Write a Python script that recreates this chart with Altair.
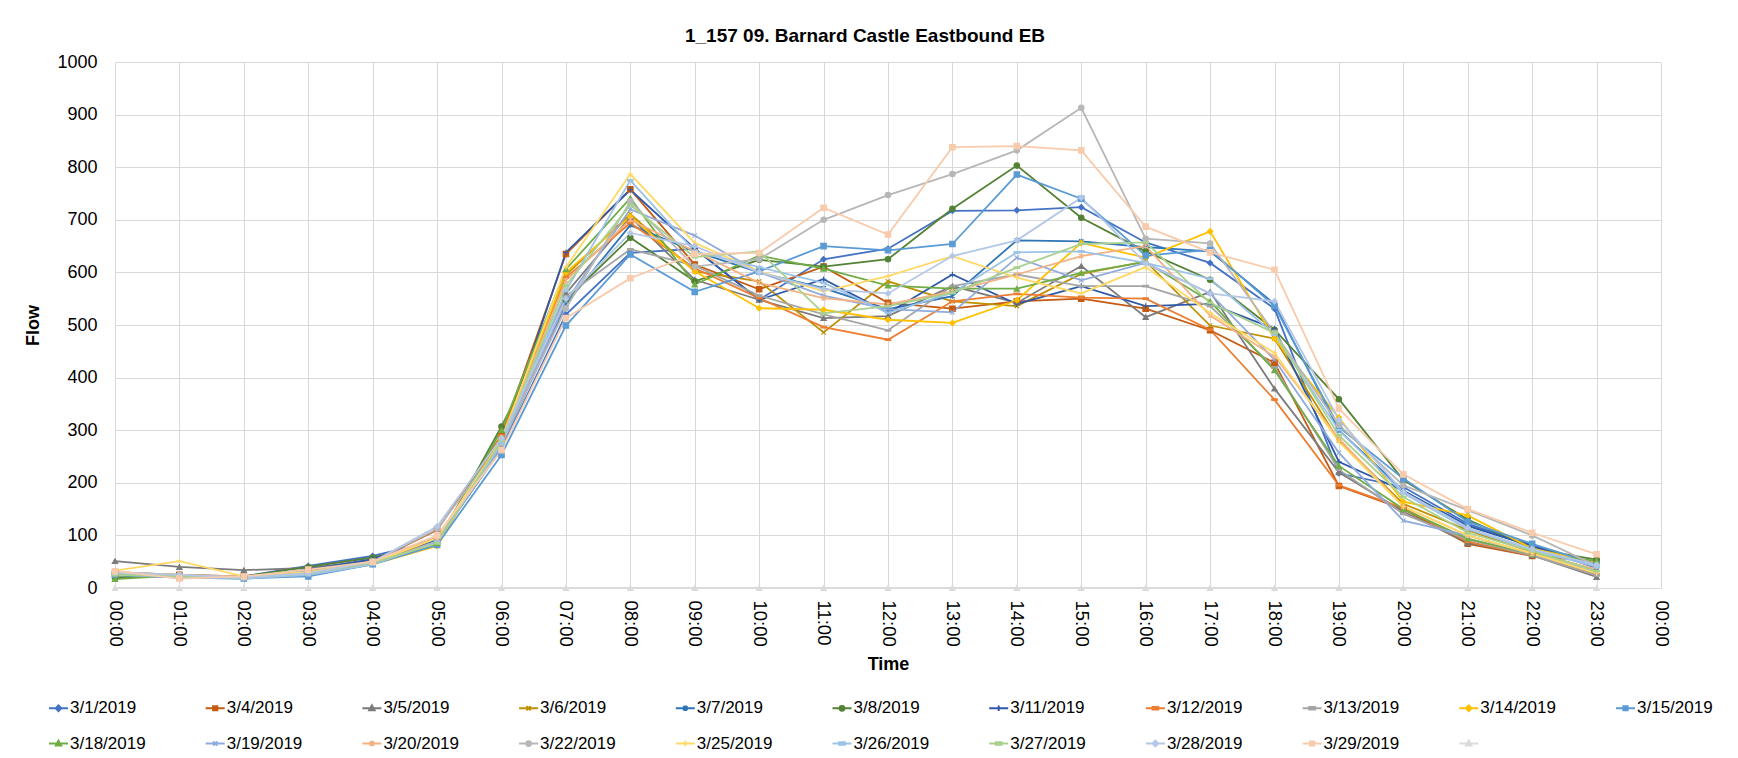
import altair as alt
import pandas as pd

FONT = "Liberation Sans, Arial, sans-serif"

hours = list(range(24))
tick_hours = list(range(25))

series_names = ["3/1/2019", "3/4/2019", "3/5/2019", "3/6/2019", "3/7/2019", "3/8/2019",
                "3/11/2019", "3/12/2019", "3/13/2019", "3/14/2019", "3/15/2019",
                "3/18/2019", "3/19/2019", "3/20/2019", "3/22/2019", "3/25/2019",
                "3/26/2019", "3/27/2019", "3/28/2019", "3/29/2019", " "]

d_0301 = [25, 22, 22, 42, 61, 90, 265, 520, 637, 645, 548, 625, 645, 717, 718, 724, 657, 618, 531, 218, 192, 122, 82, 43]
d_0304 = [28, 25, 22, 32, 50, 110, 290, 635, 758, 615, 568, 611, 542, 531, 545, 550, 531, 490, 428, 194, 150, 84, 61, 50]
d_0305 = [51, 40, 34, 38, 52, 95, 280, 560, 705, 586, 548, 513, 517, 574, 542, 612, 515, 563, 379, 220, 145, 86, 62, 21]
d_0306 = [30, 25, 20, 30, 48, 85, 285, 595, 711, 602, 583, 486, 583, 545, 536, 597, 621, 499, 474, 280, 160, 110, 68, 34]
d_0307 = [27, 22, 20, 30, 50, 92, 270, 540, 690, 640, 600, 570, 530, 555, 661, 659, 648, 640, 540, 300, 185, 118, 80, 38]
d_0308 = [20, 24, 22, 40, 58, 85, 307, 548, 666, 583, 624, 611, 625, 721, 803, 704, 640, 586, 491, 359, 205, 130, 75, 54]
d_0311 = [25, 23, 20, 35, 55, 95, 275, 638, 757, 645, 548, 587, 523, 596, 540, 574, 536, 540, 493, 240, 185, 118, 80, 38]
d_0312 = [28, 24, 20, 30, 50, 88, 290, 590, 694, 608, 551, 496, 472, 545, 559, 552, 550, 491, 358, 195, 152, 88, 62, 26]
d_0313 = [30, 25, 22, 32, 48, 85, 275, 555, 644, 613, 556, 520, 490, 574, 596, 574, 574, 536, 419, 225, 141, 92, 62, 24]
d_0314 = [28, 22, 20, 25, 45, 80, 285, 600, 706, 602, 532, 529, 510, 504, 547, 656, 628, 678, 474, 324, 164, 138, 75, 48]
d_0315 = [25, 20, 18, 22, 45, 82, 253, 499, 634, 563, 602, 650, 642, 654, 786, 740, 632, 643, 536, 306, 208, 126, 84, 45]
d_0318 = [17, 24, 22, 28, 48, 85, 300, 606, 741, 577, 632, 607, 575, 569, 569, 599, 620, 545, 414, 232, 150, 94, 64, 52]
d_0319 = [25, 20, 18, 25, 45, 88, 270, 545, 720, 670, 600, 556, 530, 524, 628, 585, 618, 560, 434, 257, 128, 100, 64, 30]
d_0320 = [30, 25, 22, 30, 50, 95, 280, 585, 700, 640, 580, 551, 539, 564, 596, 631, 650, 518, 440, 284, 155, 100, 65, 36]
d_0322 = [28, 24, 20, 30, 50, 112, 275, 532, 735, 611, 625, 700, 747, 787, 832, 913, 664, 655, 485, 310, 195, 148, 100, 42]
d_0325 = [33, 51, 22, 30, 48, 95, 280, 610, 787, 656, 602, 564, 593, 631, 590, 560, 610, 523, 447, 278, 155, 100, 66, 28]
d_0326 = [28, 22, 18, 25, 45, 88, 275, 565, 775, 640, 610, 580, 523, 561, 638, 640, 618, 588, 482, 300, 180, 112, 72, 40]
d_0327 = [25, 22, 20, 28, 48, 85, 280, 575, 728, 629, 640, 522, 536, 561, 609, 654, 657, 542, 485, 290, 173, 105, 70, 32]
d_0328 = [30, 25, 20, 28, 50, 117, 285, 550, 675, 650, 600, 568, 560, 631, 661, 742, 617, 560, 545, 320, 183, 115, 74, 44]
d_0329 = [32, 18, 22, 35, 50, 100, 262, 513, 589, 635, 637, 723, 672, 838, 840, 832, 687, 638, 605, 341, 216, 150, 105, 64]
d_blank = [0] * 24

all_series = [d_0301, d_0304, d_0305, d_0306, d_0307, d_0308, d_0311, d_0312, d_0313,
              d_0314, d_0315, d_0318, d_0319, d_0320, d_0322, d_0325, d_0326, d_0327,
              d_0328, d_0329, d_blank]

colors = ["#4472C4", "#C55A11", "#7B7B7B", "#BF9000", "#2E75B6", "#548235",
          "#2F59A8", "#ED7D31", "#A5A5A5", "#FFC000", "#5B9BD5",
          "#70AD47", "#8FAADC", "#F4B183", "#B7B7B7", "#FFD966",
          "#9DC3E6", "#A9D18E", "#B4C7E7", "#F8CBAD", "#DBDBDB"]

# marker shapes on the plot
X_SHAPE = "M-0.8,-0.8L0.8,0.8M-0.8,0.8L0.8,-0.8"
STAR = "M-0.8,-0.8L0.8,0.8M-0.8,0.8L0.8,-0.8M0,-1L0,1"
PLUS = "M-1,0L1,0M0,-1L0,1"
DASH = "M-1,-0.3L1,-0.3L1,0.3L-1,0.3Z"
shapes = ["diamond", "square", "triangle-up", X_SHAPE, STAR, "circle", PLUS, DASH, DASH,
          "diamond", "square", "triangle-up", X_SHAPE, STAR, "circle", PLUS, DASH, DASH,
          "diamond", "square", "triangle-up"]

# legend swatches: short line with a small marker in the middle
LN = "M-1,0L1,0"
LG_DIAMOND = LN + "M0,-0.3L0.3,0L0,0.3L-0.3,0Z"
LG_SQUARE = LN + "M-0.22,-0.22L0.22,-0.22L0.22,0.22L-0.22,0.22Z"
LG_TRI = LN + "M0,-0.3L0.28,0.2L-0.28,0.2Z"
LG_X = LN + "M-0.22,-0.22L0.22,0.22M-0.22,0.22L0.22,-0.22"
LG_STAR = LN + "M-0.22,-0.22L0.22,0.22M-0.22,0.22L0.22,-0.22M0,-0.3L0,0.3"
LG_CIRCLE = LN + "M0.25,0A0.25,0.25,0,1,1,-0.25,0A0.25,0.25,0,1,1,0.25,0Z"
LG_PLUS = LN + "M0,-0.3L0,0.3"
LG_DASH = "M-1,0L1,0M-0.3,-0.12L0.3,-0.12L0.3,0.12L-0.3,0.12Z"
legend_shapes = [LG_DIAMOND, LG_SQUARE, LG_TRI, LG_X, LG_STAR, LG_CIRCLE, LG_PLUS, LG_DASH, LG_DASH,
                 LG_DIAMOND, LG_SQUARE, LG_TRI, LG_X, LG_STAR, LG_CIRCLE, LG_PLUS, LG_DASH, LG_DASH,
                 LG_DIAMOND, LG_SQUARE, LG_TRI]

rows = []
for name, vals in zip(series_names, all_series):
    for h, v in zip(hours, vals):
        rows.append({"series": name, "hour": h, "flow": v})
df = pd.DataFrame(rows)

x_enc = alt.X(
    "hour:Q",
    scale=alt.Scale(domain=[0, 24], nice=False, zero=False),
    axis=alt.Axis(
        values=tick_hours,
        labelExpr="(datum.value % 24 < 10 ? '0' : '') + (datum.value % 24) + ':00'",
        labelAngle=90,
        labelFontSize=18.5,
        labelPadding=12,
        ticks=False,
        grid=True,
        gridColor="#D9D9D9",
        domainColor="#D9D9D9",
        title="Time",
        titleFontSize=18,
        titleFontWeight="bold",
        titleY=76,
        titleBaseline="middle",
        labelOverlap=False,
    ),
)
y_enc = alt.Y(
    "flow:Q",
    scale=alt.Scale(domain=[0, 1000], nice=False),
    axis=alt.Axis(
        values=list(range(0, 1001, 100)),
        format="d",
        labelFontSize=18,
        labelPadding=18,
        ticks=False,
        domain=False,
        grid=True,
        gridColor="#D9D9D9",
        title="Flow",
        titleFontSize=18,
        titleFontWeight="bold",
        titleX=-82,
        titleY=263,
        titleAngle=270,
        titleBaseline="middle",
    ),
)

legend = alt.Legend(
    orient="none",
    legendX=-67,
    legendY=635.5,
    direction="horizontal",
    columns=11,
    symbolSize=361,
    symbolStrokeWidth=2,
    labelFontSize=17,
    labelOffset=1,
    columnPadding=55.7,
    rowPadding=16.5,
    gridAlign="all",
    title=None,
    labelLimit=300,
)

lines = alt.Chart(df).mark_line(strokeWidth=1.8).encode(
    x=x_enc,
    y=y_enc,
    color=alt.Color("series:N", scale=alt.Scale(domain=series_names, range=colors), legend=None),
    detail="series:N",
    order=alt.Order("hour:Q"),
)

points = alt.Chart(df).mark_point(filled=True, size=30, strokeWidth=1.1, opacity=1).encode(
    x=alt.X("hour:Q"),
    y=alt.Y("flow:Q"),
    fill=alt.Fill("series:N", scale=alt.Scale(domain=series_names, range=colors), legend=None),
    stroke=alt.Stroke("series:N", scale=alt.Scale(domain=series_names, range=colors), legend=None),
    shape=alt.Shape("series:N", scale=alt.Scale(domain=series_names, range=shapes), legend=None),
)

legend_layer = alt.Chart(df).transform_filter("false").mark_point(filled=True, opacity=1).encode(
    x=alt.X("hour:Q"),
    y=alt.Y("flow:Q"),
    fill=alt.Fill("series:N", scale=alt.Scale(domain=series_names, range=colors), legend=legend),
    stroke=alt.Stroke("series:N", scale=alt.Scale(domain=series_names, range=colors), legend=legend),
    shape=alt.Shape("series:N", scale=alt.Scale(domain=series_names, range=legend_shapes), legend=legend),
)

chart = alt.layer(lines, points, legend_layer).resolve_scale(
    fill="independent", stroke="independent", shape="independent"
).properties(
    width=1546,
    height=526,
    padding={"left": 107, "top": 54, "right": 60, "bottom": 170},
    autosize=alt.AutoSizeParams(type="none"),
    title=alt.TitleParams(
        text="1_157 09. Barnard Castle Eastbound EB",
        fontSize=19,
        fontWeight="bold",
        font=FONT,
        color="#000000",
        anchor="middle",
        dx=-23,
        offset=7,
    ),
).configure(
    font=FONT,
).configure_axis(
    labelFont=FONT,
    titleFont=FONT,
    labelColor="#000000",
    titleColor="#000000",
).configure_legend(
    labelFont=FONT,
    labelColor="#000000",
).configure_view(
    stroke=None,
)

chart.save("out.html", embed_options={"renderer": "svg", "actions": False})
